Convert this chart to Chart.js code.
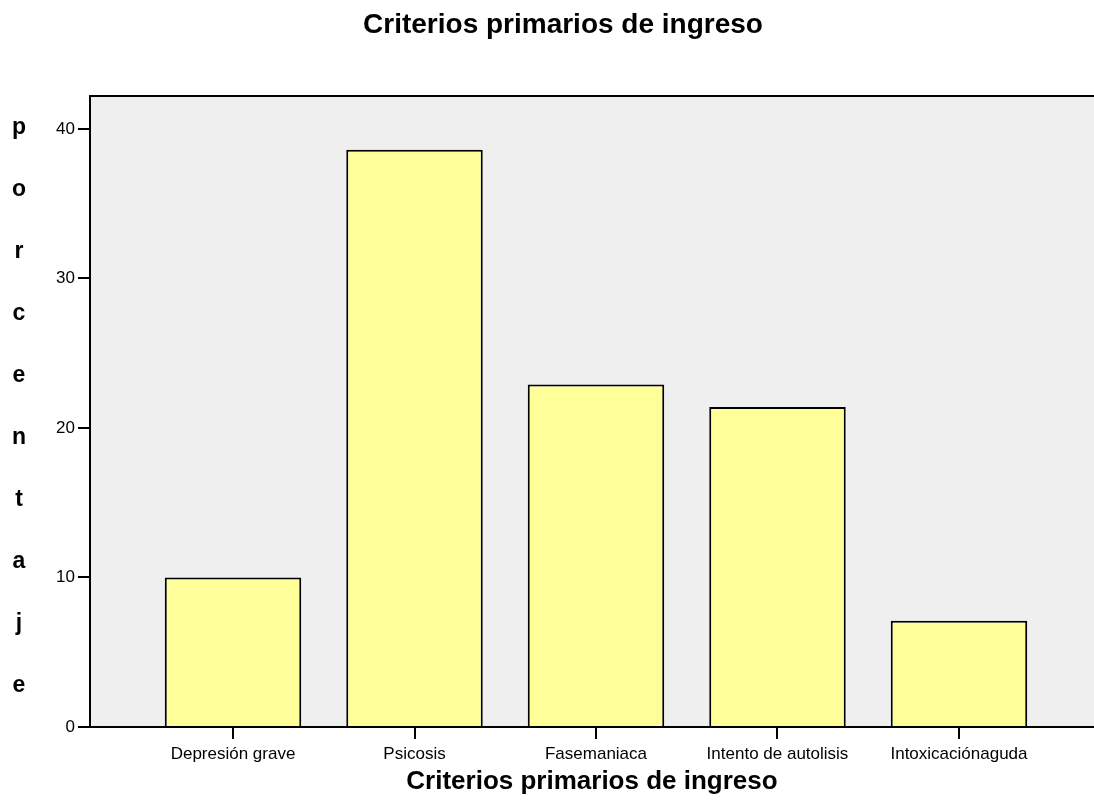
<!DOCTYPE html>
<html><head><meta charset="utf-8">
<script src="https://cdn.jsdelivr.net/npm/chart.js@4/dist/chart.umd.min.js"></script>
<style>html,body{margin:0;padding:0;background:#fff}#wrap{width:1094px;height:803px}</style>
</head><body><div id="wrap"><canvas id="c" width="1094" height="803"></canvas></div>
<script>
const categories = ["Depresión grave", "Psicosis", "Fasemaniaca", "Intento de autolisis", "Intoxicaciónaguda"];
const percentages = [10.0, 38.6, 22.9, 21.4, 7.1];
const yTicks = [0, 10, 20, 30, 40];
const chartTitle = "Criterios primarios de ingreso";
const xTitle = "Criterios primarios de ingreso";
const yTitle = "porcentaje";

const FONT = "'Liberation Sans', Arial, sans-serif";

const bgPlugin = {
  id: 'bg',
  beforeDraw(chart) {
    const {ctx, chartArea: a} = chart;
    ctx.save();
    ctx.fillStyle = '#efefef';
    ctx.fillRect(a.left, a.top, a.right - a.left, a.bottom - a.top);
    ctx.strokeStyle = '#000';
    ctx.lineWidth = 2;
    ctx.beginPath();
    ctx.moveTo(a.left, a.top);
    ctx.lineTo(a.right, a.top);
    ctx.stroke();
    ctx.restore();
  },
  afterDraw(chart) {
    const {ctx} = chart;
    ctx.save();
    ctx.fillStyle = '#000';
    ctx.font = "bold 23px " + FONT;
    ctx.textAlign = 'center';
    ctx.textBaseline = 'middle';
    const letters = yTitle.split('');
    letters.forEach((ch, i) => ctx.fillText(ch, 19, 128 + i * 62));
    ctx.restore();
  }
};

new Chart(document.getElementById('c'), {
  type: 'bar',
  data: {
    datasets: [{
      data: percentages.map((v, i) => ({x: i, y: v})),
      backgroundColor: '#ffff99',
      borderColor: '#000',
      borderWidth: 2,
      categoryPercentage: 1,
      barPercentage: 0.752
    }]
  },
  options: {
    responsive: false,
    animation: false,
    layout: {padding: {left: 32, right: 0, top: 0, bottom: 0}},
    plugins: {
      legend: {display: false},
      tooltip: {enabled: false},
      title: {
        display: true, text: chartTitle, color: '#000',
        font: {family: FONT, size: 28, weight: 'bold'},
        padding: {top: 8.7, bottom: 53.7}
      }
    },
    scales: {
      x: {
        type: 'linear', min: -0.788, max: 4.744, offset: false,
        afterBuildTicks(axis) { axis.ticks = categories.map((_, i) => ({value: i})); },
        afterFit(scale) { scale.height = 76; },
        ticks: {
          color: '#000', font: {family: FONT, size: 17}, padding: 5,
          maxRotation: 0, autoSkip: false,
          callback: (v) => categories[v]
        },
        grid: {offset: false, drawOnChartArea: false, drawTicks: true, tickLength: 12, color: '#000', lineWidth: 2},
        border: {display: true, color: '#000', width: 2},
        title: {display: true, text: xTitle, color: '#000', font: {family: FONT, size: 26, weight: 'bold'}, padding: {top: 0, bottom: 5.4}}
      },
      y: {
        min: 0, max: 42.2,
        afterBuildTicks(axis) { axis.ticks = yTicks.map(v => ({value: v})); },
        afterFit(scale) { scale.width = 58; },
        ticks: {color: '#000', font: {family: FONT, size: 17}, padding: 3},
        grid: {drawOnChartArea: false, drawTicks: true, tickLength: 12, color: '#000', lineWidth: 2},
        border: {display: true, color: '#000', width: 2}
      }
    }
  },
  plugins: [bgPlugin]
});
</script></body></html>
